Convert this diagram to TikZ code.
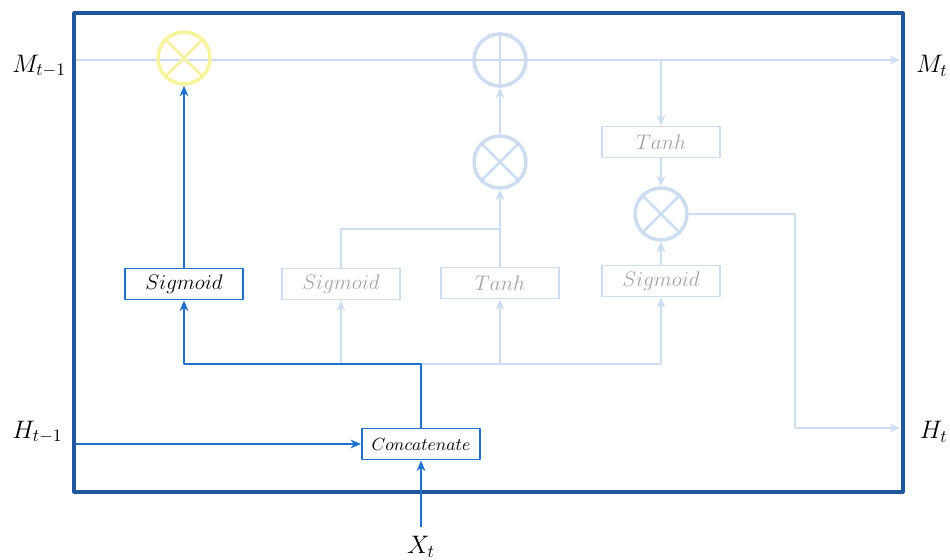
\documentclass[tikz,border=0pt]{standalone}
\usetikzlibrary{arrows.meta}
\definecolor{frameblue}{HTML}{1F569E}
\definecolor{actblue}{HTML}{1F6FCC}
\definecolor{fadeblue}{HTML}{CCDDF2}
\definecolor{gateyellow}{HTML}{F6F39C}
\definecolor{fadetext}{HTML}{A3A3A3}
\begin{document}
\begin{tikzpicture}[x=0.02cm,y=-0.02cm,line join=round,>={Stealth[length=6pt,width=5pt]},
	act/.style={actblue,line width=1.6pt},
	fade/.style={fadeblue,line width=1.6pt},
	box/.style={draw,line width=1.1pt,minimum width=2.36cm,minimum height=0.62cm,inner sep=0pt,font=\large},
	actbox/.style={box,draw=actblue,text=black},
	fadebox/.style={box,draw=fadeblue,text=fadetext},
	op/.style={circle,draw,line width=2pt,minimum size=1.04cm,inner sep=0pt},
	cross/.style={line width=1.5pt},
	lbl/.style={font=\Large,inner sep=0pt}]
\useasboundingbox (0,0) rectangle (950,559);
\draw[frameblue,line width=1.8pt] (74,13) rectangle (903,492);
% outer labels
\node[lbl,anchor=west] (mprev) at (12,66) {$M_{t-1}$};
\node[lbl,anchor=east] (mnext) at (948,66) {$M_t$};
\node[lbl,anchor=west] (hprev) at (12,432) {$H_{t-1}$};
\node[lbl,anchor=east] (hnext) at (948,432) {$H_t$};
\node[lbl] (xt) at (421,547) {$X_t$};
\coordinate (min) at (76,60);
\coordinate (mout) at (900,60);
\coordinate (hin) at (76,444);
\coordinate (hout) at (900,428);
\coordinate (xin) at (421,527);
\coordinate (bus) at (421,364);
\coordinate (ijoin) at (500,229);
\coordinate (hbend) at (795,214);
% boxes
\node[actbox] (sigf) at (184,284) {$Sigmoid$};
\node[fadebox] (sigi) at (341,284) {$Sigmoid$};
\node[fadebox] (cand) at (500,283) {$Tanh$};
\node[fadebox] (sigo) at (661,281) {$Sigmoid$};
\node[fadebox] (tanho) at (661,142) {$Tanh$};
\node[actbox,font=\normalsize] (concat) at (421,444) {$Concatenate$};
% faded paths
\draw[fade,->] (min) -- (mout);
\draw[fade] (bus) -- (bus -| sigo);
\draw[fade,->] (bus -| sigi) -- (sigi.south);
\draw[fade,->] (bus -| cand) -- (cand.south);
\draw[fade,->] (bus -| sigo) -- (sigo.south);
\draw[fade] (sigi.north) |- (ijoin);
% gates
\node[op,draw=gateyellow] (forget) at (184,58) {};
\draw[gateyellow,cross] (forget.north east) -- (forget.south west) (forget.north west) -- (forget.south east);
\node[op,draw=fadeblue] (add) at (500,60) {};
\draw[fadeblue,cross] (add.north) -- (add.south) (add.west) -- (add.east);
\node[op,draw=fadeblue] (inmul) at (500,162) {};
\draw[fadeblue,cross] (inmul.north east) -- (inmul.south west) (inmul.north west) -- (inmul.south east);
\node[op,draw=fadeblue] (outmul) at (661,214) {};
\draw[fadeblue,cross] (outmul.north east) -- (outmul.south west) (outmul.north west) -- (outmul.south east);
\draw[fade,->] (cand.north) -- (inmul.south);
\draw[fade,->] (inmul.north) -- (add.south);
\draw[fade,->] (min -| tanho) -- (tanho.north);
\draw[fade,->] (tanho.south) -- (outmul.north);
\draw[fade,->] (sigo.north) -- (outmul.south);
\draw[fade,->] (outmul.east) -- (hbend) |- (hout);
% active paths
\draw[act,->] (concat.north) -- (bus) -| (sigf.south);
\draw[act,->] (sigf.north) -- (forget.south);
\draw[act,->] (hin) -- (concat.west);
\draw[act,->] (xin) -- (concat.south);
\end{tikzpicture}
\end{document}
